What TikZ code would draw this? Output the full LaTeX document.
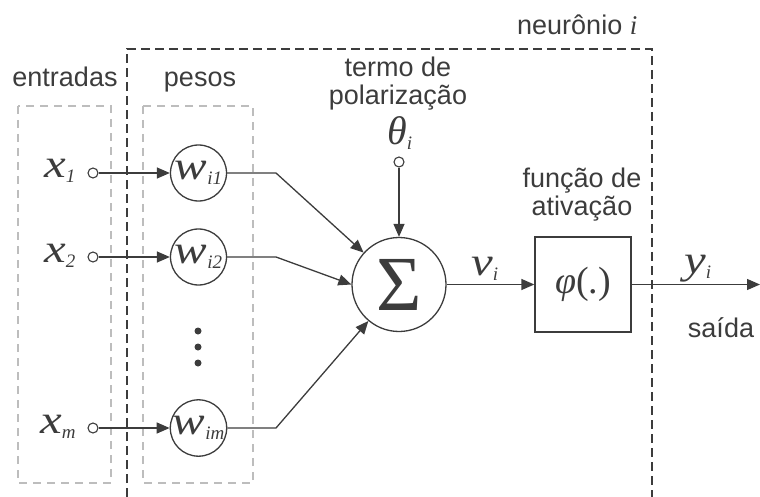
\documentclass[tikz,border=0pt]{standalone}
\usepackage[no-math]{fontspec}
\setmainfont{Liberation Sans}
\newfontfamily\tm{Liberation Serif}
\usetikzlibrary{arrows.meta}
\definecolor{ink}{HTML}{3C3C3C}
\definecolor{lgray}{HTML}{BDBDBD}
\newcommand\wx[1]{\scalebox{1.22}[1]{#1}}
\newcommand\sbs[1]{\raisebox{-5pt}{\fontsize{19}{19}\selectfont #1}}
\begin{document}
\begin{tikzpicture}[x=1pt,y=-1pt,
  wire/.style={draw=ink, line width=1.3pt},
  arr/.style={wire, -{Triangle[length=13pt,width=11pt]}},
  weight/.style={circle, draw=ink, line width=1.3pt, minimum size=56pt, inner sep=0pt,
    font=\fontsize{40}{40}\selectfont\tm\itshape, text=ink},
  port/.style={circle, draw=ink, line width=1.1pt, fill=white, minimum size=10pt, inner sep=0pt},
  dotn/.style={circle, fill=ink, minimum size=7pt, inner sep=0pt},
  lab/.style={font=\fontsize{27}{28}\selectfont, text=ink, inner sep=0pt, align=center},
  sym/.style={font=\fontsize{40}{40}\selectfont\tm\itshape, text=ink, inner sep=0pt},
  neuron/.style={draw=ink, dash pattern=on 9pt off 5pt, line width=1.3pt},
  group/.style={draw=lgray, dash pattern=on 8pt off 6pt, line width=1.2pt}]
\useasboundingbox (0,0) rectangle (760,497);

% grouping boxes
\draw[group] (18,106) rectangle (111,483);
\draw[group] (143,106) rectangle (253,483);
\draw[neuron] (127,497) -- (127,49) -- (652,49) -- (652,497);

% labels
\node[lab, anchor=base] (lent) at (65,87) {entradas};
\node[lab, anchor=base] (lpes) at (200,87) {pesos};
\node[lab, anchor=base west] (lneu) at (517,35) {neurônio {\tm\itshape i}};
\node[lab] (lter) at (398,84) {termo de\\polarização};
\node[lab] (lfun) at (582,195) {função de\\ativação};
\node[lab, anchor=base] (lsai) at (721,337) {saída};

% inputs
\node[port] (p1) at (93,173) {};
\node[port] (p2) at (93,257) {};
\node[port] (pm) at (93,428) {};
\node[sym, anchor=base west] (x1) at (44,178) {\wx{x}\sbs{1}};
\node[sym, anchor=base west] (x2) at (44,262) {\wx{x}\sbs{2}};
\node[sym, anchor=base west] (xm) at (40,433) {\wx{x}\sbs{m}};

% weights
\node[weight] (w1) at (198.5,173) {\wx{w}\sbs{i1}};
\node[weight] (w2) at (198.5,257) {\wx{w}\sbs{i2}};
\node[weight] (wm) at (198.5,428) {\wx{w}\sbs{im}};
\node[dotn] (d1) at (198,331) {};
\node[dotn] (d2) at (198,347) {};
\node[dotn] (d3) at (198,363) {};

\draw[arr] (p1) -- (w1);
\draw[arr] (p2) -- (w2);
\draw[arr] (pm) -- (wm);

% summing junction
\node[circle, draw=ink, line width=1.3pt, minimum size=94pt, inner sep=0pt,
  font=\fontsize{78}{78}\selectfont\tm, text=ink] (sum) at (399,284.5) {Σ};

\coordinate (b1) at (276,173);
\coordinate (b2) at (276,257);
\coordinate (bm) at (276,428);
\draw[arr] (w1) -- (b1) -- (sum.138);
\draw[arr] (w2) -- (b2) -- (sum.180);
\draw[arr] (wm) -- (bm) -- (sum.230);

% bias
\node[port] (pt) at (399,162) {};
\node[sym, anchor=base west] (th) at (387,145) {θ\sbs{i}};
\draw[arr] (pt) -- (sum);

% activation
\node[draw=ink, line width=1.3pt, minimum width=96pt, minimum height=95pt, inner sep=0pt,
  font=\fontsize{38}{38}\selectfont\tm, text=ink] (phi) at (583,284.5) {{\itshape φ}(.)};
\draw[arr] (sum) -- (phi);
\node[sym, anchor=base west] (vi) at (471,275) {\wx{v}\sbs{i}};

% output
\coordinate (out) at (760,284.5);
\draw[arr] (phi) -- (out);
\node[sym, anchor=base west] (yi) at (684,273) {\wx{y}\sbs{i}};
\end{tikzpicture}
\end{document}
